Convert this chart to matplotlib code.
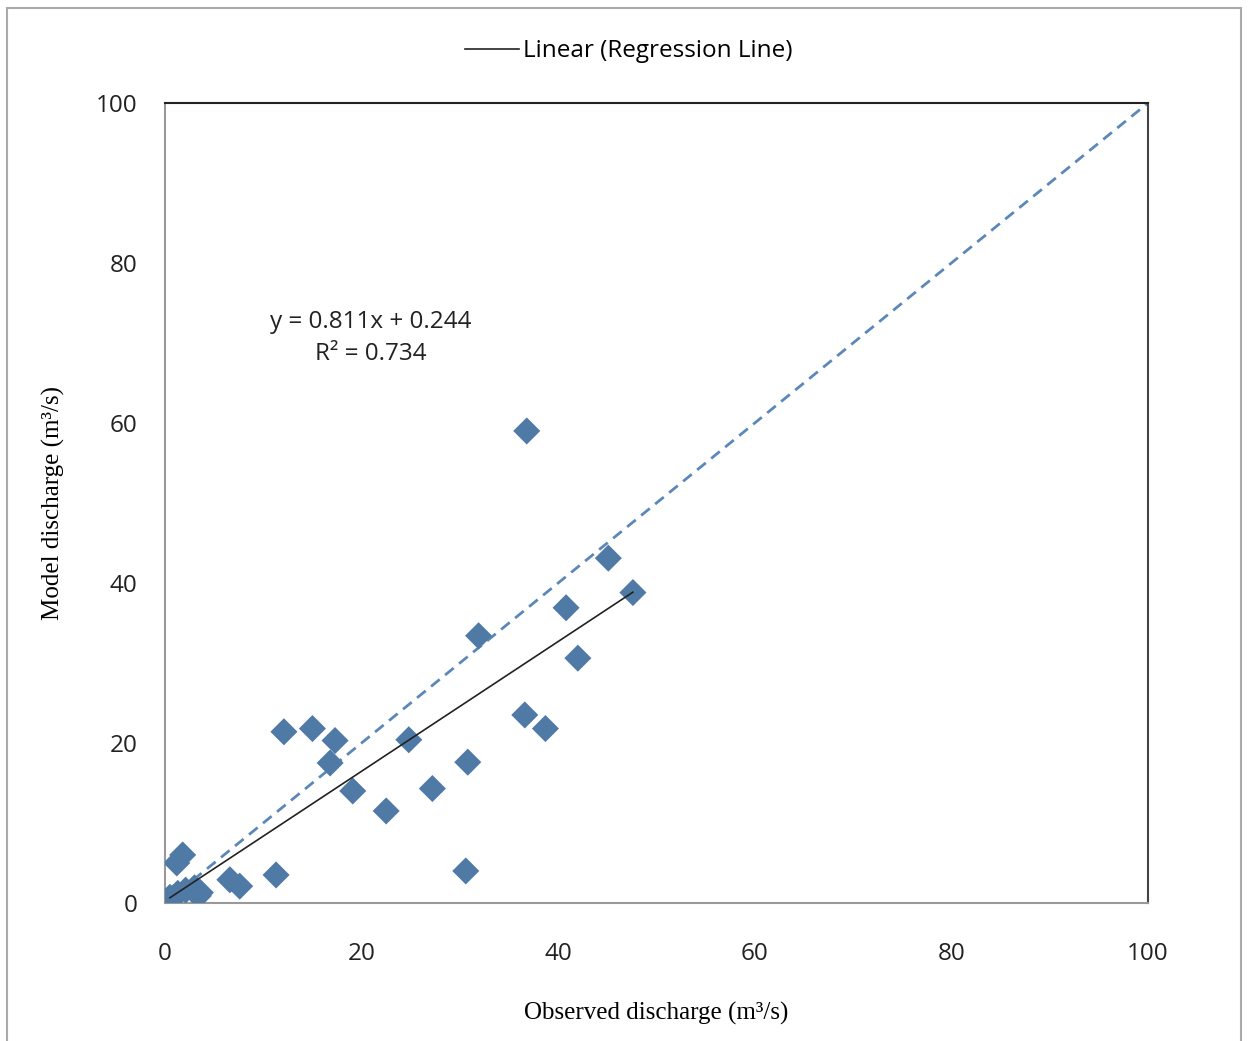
import numpy as np
import matplotlib
matplotlib.use('Agg')
import matplotlib.pyplot as plt
from matplotlib.patches import Rectangle

# observed vs model discharge (m3/s)
observed = [36.8, 45.1, 47.6, 40.8, 31.9, 42.0, 36.6, 38.7, 12.1, 15.0,
            17.3, 24.8, 16.8, 30.8, 19.1, 27.2, 22.5, 30.6, 11.3, 6.6,
            7.6, 1.8, 1.2, 0.5, 1.3, 2.1, 3.0, 3.6, 3.4, 0.8]
model = [59.0, 43.1, 38.8, 36.9, 33.4, 30.6, 23.5, 21.8, 21.4, 21.8,
         20.3, 20.4, 17.5, 17.6, 14.0, 14.3, 11.5, 4.0, 3.5, 2.9,
         2.1, 6.0, 5.0, 0.7, 1.2, 1.6, 1.9, 1.3, 0.9, 0.6]

slope, intercept = 0.811, 0.244
r2 = 0.734
ticks = [0, 20, 40, 60, 80, 100]

fig = plt.figure(figsize=(12.48, 10.41), dpi=100)
ax = fig.add_axes([0.1322, 0.1326, 0.7877, 0.7685])

sans = ['Open Sans', 'DejaVu Sans']
serif = ['Liberation Serif', 'DejaVu Serif']

# 1:1 line
ax.plot([0, 100], [0, 100], ls=(0, (4, 2.5)), color='#5b88b8', lw=2, zorder=2)
ax.scatter(observed, model, marker='D', s=190, color='#4f7aa6', edgecolor='none', zorder=3)

xs = np.array([min(observed), max(observed)])
ax.plot(xs, slope * xs + intercept, color='#222222', lw=1.2, zorder=4,
        label='Linear (Regression Line)')

ax.text(20.9, 70.6, 'y = %.3fx + %.3f\nR\u00b2 = %.3f' % (slope, intercept, r2),
        ha='center', va='center', fontsize=17.5, family=sans, color='#222222',
        linespacing=1.45)

ax.set_xlim(0, 100)
ax.set_ylim(0, 100)
ax.set_xticks(ticks)
ax.set_yticks(ticks)
ax.tick_params(length=0, labelsize=17.5, colors='#222222')
ax.tick_params(axis='y', pad=20)
ax.tick_params(axis='x', pad=28)
for lab in ax.get_xticklabels() + ax.get_yticklabels():
    lab.set_family(sans)

for s in ['left', 'bottom']:
    ax.spines[s].set_color('#999999')
    ax.spines[s].set_linewidth(1.5)
ax.spines['top'].set_color('#222222')
ax.spines['top'].set_linewidth(1.5)
ax.spines['right'].set_color('#444444')
ax.spines['right'].set_linewidth(1.5)

ax.set_xlabel('Observed discharge (m\u00b3/s)', fontsize=18, family=serif, labelpad=26)
ax.set_ylabel('Model discharge (m\u00b3/s)', fontsize=18, family=serif, labelpad=22)

leg = fig.legend(loc='center', bbox_to_anchor=(0.504, 0.951), frameon=False,
                 prop={'family': sans, 'size': 17.5}, handlelength=2.2,
                 handletextpad=0.2)

fig.patches.append(Rectangle((0.006, -0.01), 0.988, 1.002, transform=fig.transFigure,
                             fill=False, edgecolor='#aaaaaa', lw=1.5))

fig.savefig('out.png', dpi=100)
